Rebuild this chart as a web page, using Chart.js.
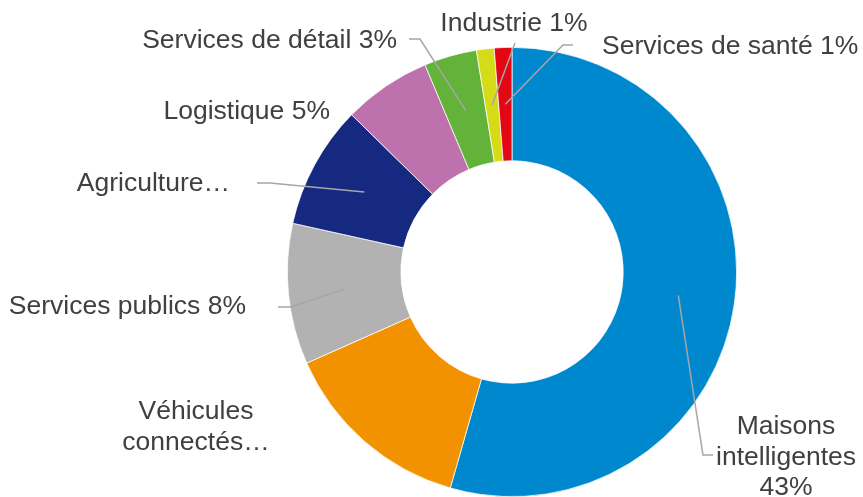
<!DOCTYPE html>
<html>
<head>
<meta charset="utf-8">
<script src="https://cdn.jsdelivr.net/npm/chart.js@4"></script>
<style>
  html, body { margin: 0; padding: 0; background: #fff; }
  #wrap { width: 863px; height: 497px; }
</style>
</head>
<body>
<div id="wrap"><canvas id="iotChart"></canvas></div>
<script>
// données
const categories = ['Maisons intelligentes', 'Véhicules connectés', 'Services publics', 'Agriculture',
  'Logistique', 'Services de détail', 'Industrie', 'Services de santé'];
const values = [43, 11, 8, 7, 5, 3, 1, 1];
const labelTexts = [
  ['Maisons', 'intelligentes', '43%'],
  ['Véhicules', 'connectés…'],
  ['Services publics 8%'],
  ['Agriculture…'],
  ['Logistique 5%'],
  ['Services de détail 3%'],
  ['Industrie 1%'],
  ['Services de santé 1%']
];
const colors = ['#0088ce', '#f39200', '#b2b2b2', '#152981', '#bd72ad', '#63b33b', '#d5db17', '#e30613'];

// placement des étiquettes (x, y, alignement) et coudes des traits de rappel
const labelLayout = [
  { x: 786, y: 427, align: 'center', elbow: [703, 455], end: [713, 455] },
  { x: 196, y: 412, align: 'center' },
  { x: 246, y: 307, align: 'right', elbow: [291, 307], end: [278, 307] },
  { x: 230, y: 184, align: 'right', elbow: [270, 183], end: [257, 183] },
  { x: 330, y: 112, align: 'right' },
  { x: 397, y: 41, align: 'right', elbow: [420, 39], end: [409, 39] },
  { x: 514, y: 24, align: 'center', elbow: [515, 43] },
  { x: 602, y: 47, align: 'left', elbow: [563, 45], end: [573, 45] }
];

const outsideLabels = {
  id: 'outsideLabels',
  afterDraw(chart) {
    const ctx = chart.ctx;
    const arcs = chart.getDatasetMeta(0).data;
    ctx.save();
    ctx.strokeStyle = '#a6a6a6';
    ctx.lineWidth = 1.5;
    labelLayout.forEach((l, i) => {
      if (!l.elbow) return;
      const p = arcs[i].getCenterPoint();
      ctx.beginPath();
      ctx.moveTo(p.x, p.y);
      ctx.lineTo(l.elbow[0], l.elbow[1]);
      if (l.end) ctx.lineTo(l.end[0], l.end[1]);
      ctx.stroke();
    });
    ctx.fillStyle = '#404040';
    ctx.font = '26.5px "Liberation Sans", Arial, sans-serif';
    ctx.textBaseline = 'middle';
    labelLayout.forEach((l, i) => {
      ctx.textAlign = l.align;
      labelTexts[i].forEach((line, k) => {
        ctx.fillText(line, l.x, l.y + k * 30.5);
      });
    });
    ctx.restore();
  }
};

new Chart(document.getElementById('iotChart'), {
  type: 'doughnut',
  data: {
    labels: categories,
    datasets: [{
      data: values,
      backgroundColor: colors,
      borderColor: '#fff',
      borderWidth: 0.75,
      hoverOffset: 0
    }]
  },
  options: {
    responsive: true,
    maintainAspectRatio: false,
    animation: false,
    cutout: '49.5%',
    layout: { padding: { left: 287, right: 126, top: 47, bottom: 0 } },
    plugins: {
      legend: { display: false },
      tooltip: { enabled: false }
    }
  },
  plugins: [outsideLabels]
});
</script>
</body>
</html>
